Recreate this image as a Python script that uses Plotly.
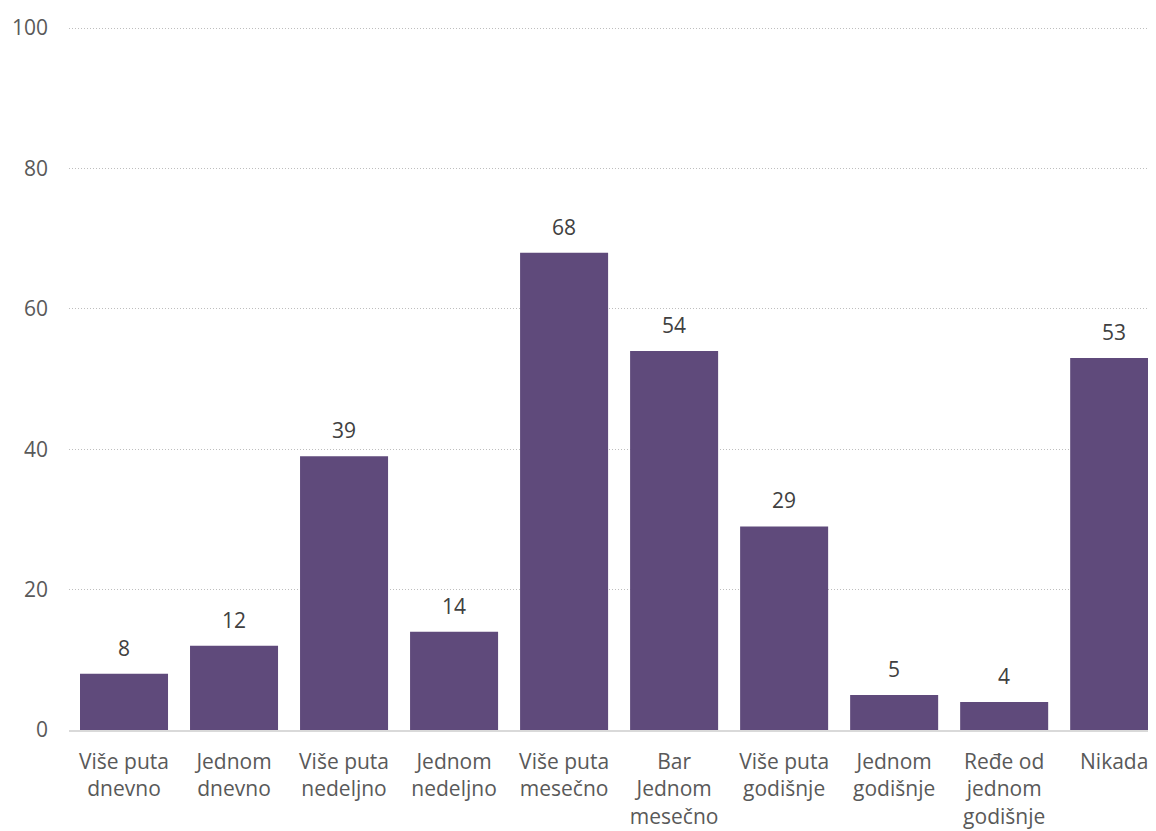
import plotly.graph_objects as go

categories = ["Više puta<br>dnevno", "Jednom<br>dnevno", "Više puta<br>nedeljno", "Jednom<br>nedeljno",
              "Više puta<br>mesečno", "Bar<br>Jednom<br>mesečno", "Više puta<br>godišnje", "Jednom<br>godišnje",
              "Ređe od<br>jednom<br>godišnje", "Nikada"]
values = [8, 12, 39, 14, 68, 54, 29, 5, 4, 53]
y_ticks = [0, 20, 40, 60, 80, 100]

font_family = "Open Sans, Noto Sans, sans-serif"
text_color = "#595959"
fs = 21

fig = go.Figure()
fig.add_trace(go.Bar(
    x=list(range(len(categories))), y=values,
    marker=dict(color="#5F4A7B", line=dict(width=0)),
    hoverinfo="skip",
))

for i, v in enumerate(values):
    fig.add_annotation(x=i, y=v, text=str(v), showarrow=False, yanchor="bottom",
                       yshift=10, font=dict(family=font_family, size=fs, color="#404040"))

fig.update_layout(
    width=1148, height=823,
    margin=dict(l=61, r=0, t=18, b=101),
    paper_bgcolor="white", plot_bgcolor="white",
    showlegend=False, bargap=0.2,
    font=dict(family=font_family, size=fs, color=text_color),
    xaxis=dict(
        tickmode="array", tickvals=list(range(len(categories))), ticktext=categories,
        range=[-0.5, 9.38], showgrid=False, zeroline=False,
        showline=True, linecolor="#D9D9D9", linewidth=1.5,
        ticks="", tickfont=dict(size=fs, color=text_color), ticklabelstandoff=12,
    ),
    yaxis=dict(
        range=[0, 100.3], tickvals=y_ticks, showgrid=True, gridcolor="#BEBEBE",
        griddash="1px,2px", gridwidth=1, zeroline=False, showline=False, ticks="",
        ticklabelstandoff=20, tickfont=dict(size=fs, color=text_color),
    ),
)

fig.write_html("out.html")
